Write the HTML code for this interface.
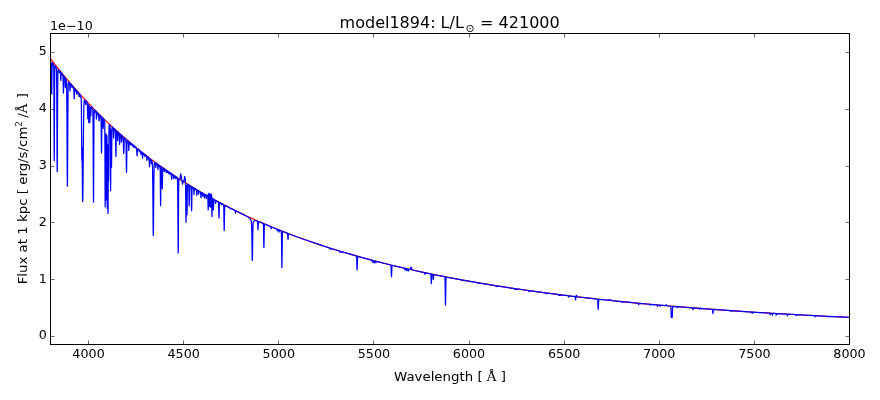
<!DOCTYPE html><html><head><meta charset="utf-8"><title>model1894</title><style>html,body{margin:0;padding:0;background:#fff}svg{display:block}text{font-family:"DejaVu Sans","Liberation Sans",sans-serif;fill:#000}</style></head><body>
<svg width="880" height="400" viewBox="0 0 880 400">
<rect width="880" height="400" fill="#fff"/>
<clipPath id="c"><rect x="50.5" y="33.5" width="799" height="311"/></clipPath>
<g clip-path="url(#c)" fill="none" stroke-linejoin="round">
<path d="M50.50,58.71 L53.75,62.92 L57.05,67.11 L60.35,71.23 L63.70,75.33 L67.05,79.36 L70.45,83.36 L73.90,87.34 L77.35,91.25 L80.80,95.08 L84.30,98.90 L87.85,102.69 L91.40,106.40 L95.00,110.10 L98.60,113.72 L102.25,117.32 L105.90,120.85 L109.60,124.35 L113.35,127.83 L117.10,131.24 L120.90,134.62 L124.70,137.94 L128.55,141.23 L132.45,144.49 L136.35,147.69 L140.30,150.86 L144.30,154.01 L148.30,157.09 L152.35,160.14 L156.45,163.17 L160.55,166.13 L164.70,169.06 L168.90,171.96 L173.15,174.84 L177.40,177.66 L181.70,180.44 L186.00,183.17 L190.35,185.86 L194.75,188.53 L199.20,191.17 L203.70,193.78 L208.25,196.36 L212.80,198.89 L217.40,201.38 L222.05,203.84 L226.75,206.28 L231.50,208.68 L236.30,211.05 L241.10,213.37 L246.00,215.68 L250.90,217.94 L255.85,220.17 L260.85,222.37 L265.95,224.56 L271.05,226.70 L276.20,228.81 L281.40,230.88 L286.65,232.93 L291.95,234.95 L297.30,236.93 L302.70,238.89 L308.15,240.82 L313.70,242.73 L319.25,244.59 L324.90,246.45 L330.50,248.24 L336.20,250.01 L341.95,251.76 L347.75,253.48 L353.60,255.17 L359.50,256.83 L365.45,258.47 L371.50,260.08 L383.75,263.23 L396.25,266.28 L409.05,269.24 L422.10,272.10 L435.45,274.87 L449.10,277.56 L463.05,280.15 L477.30,282.65 L491.90,285.07 L506.80,287.41 L522.05,289.66 L537.70,291.84 L553.70,293.94 L570.05,295.96 L586.80,297.91 L604.00,299.79 L621.60,301.60 L639.70,303.34 L658.25,305.02 L677.25,306.63 L696.80,308.18 L716.85,309.66 L737.45,311.09 L758.60,312.46 L780.35,313.77 L802.75,315.03 L825.80,316.24 L849.50,317.39" stroke="#f00" stroke-width="1.15"/>
<path d="M50.50,62.20 L50.60,62.56 L50.80,62.10 L50.95,62.15 L51.05,62.34 L51.15,62.99 L51.25,64.97 L51.35,69.88 L51.60,90.63 L51.70,93.92 L51.80,90.31 L52.00,73.07 L52.15,65.86 L52.20,65.39 L52.25,65.46 L52.30,65.46 L52.45,63.48 L52.50,63.10 L52.55,62.98 L52.60,62.97 L52.75,63.09 L52.85,63.37 L53.00,64.65 L53.05,64.70 L53.20,63.69 L53.25,63.63 L53.30,63.75 L53.45,64.71 L53.50,64.78 L53.55,64.70 L53.60,64.75 L53.70,66.39 L53.80,72.17 L53.90,85.68 L54.15,150.25 L54.25,160.86 L54.35,149.38 L54.60,86.40 L54.70,73.18 L54.80,67.64 L54.90,66.20 L55.05,66.78 L55.20,66.06 L55.25,65.95 L55.30,66.03 L55.50,67.18 L55.70,66.53 L55.90,66.77 L56.15,67.19 L56.25,67.50 L56.50,70.30 L56.65,76.71 L56.75,87.75 L57.10,164.23 L57.20,171.68 L57.30,163.14 L57.70,82.71 L57.80,74.74 L57.90,71.27 L58.00,70.02 L58.10,69.68 L58.20,69.64 L58.30,69.78 L58.50,70.73 L58.70,70.06 L58.90,70.17 L59.00,70.37 L59.20,72.56 L59.25,72.56 L59.35,71.38 L59.45,70.81 L59.55,71.16 L59.70,72.40 L59.90,71.29 L59.95,71.25 L60.00,71.28 L60.15,71.45 L60.30,71.81 L60.40,72.83 L60.65,78.72 L60.80,80.40 L60.90,79.31 L61.10,74.84 L61.40,73.04 L61.45,72.98 L61.50,72.99 L61.70,73.26 L61.90,74.56 L61.95,74.63 L62.10,73.87 L62.15,73.80 L62.20,73.82 L62.35,74.00 L62.45,74.33 L62.60,75.42 L62.65,75.40 L62.75,74.85 L62.80,74.73 L62.85,74.78 L62.95,75.46 L63.05,77.40 L63.40,93.04 L63.45,93.04 L63.50,91.71 L63.75,78.32 L63.80,77.20 L63.90,76.35 L63.95,76.45 L64.10,77.66 L64.25,76.73 L64.30,76.52 L64.35,76.48 L64.45,76.64 L64.50,76.86 L64.65,78.12 L64.70,78.16 L64.80,77.66 L64.85,77.63 L64.90,77.90 L65.05,80.55 L65.20,85.70 L65.30,87.52 L65.55,81.20 L65.70,79.06 L65.75,79.01 L65.90,79.91 L66.10,79.02 L66.20,79.11 L66.35,79.68 L66.45,80.57 L66.55,82.52 L66.65,86.74 L66.85,103.57 L67.25,174.70 L67.35,184.75 L67.40,186.10 L67.45,184.83 L67.55,175.10 L67.85,119.28 L68.05,93.94 L68.15,87.68 L68.30,83.45 L68.35,82.96 L68.40,82.85 L68.50,83.20 L68.55,83.12 L68.70,82.12 L68.75,82.01 L68.85,82.04 L68.95,82.18 L69.00,82.38 L69.15,83.83 L69.20,83.92 L69.35,82.75 L69.40,82.62 L69.50,82.76 L69.60,83.32 L69.70,84.71 L69.95,90.92 L70.00,90.85 L70.05,90.32 L70.40,84.44 L70.45,84.03 L70.55,83.76 L70.75,83.90 L70.90,84.13 L71.10,85.67 L71.15,85.68 L71.25,84.94 L71.35,84.61 L71.60,84.83 L71.70,85.01 L71.95,87.42 L72.10,85.82 L72.15,85.58 L72.20,85.53 L72.55,85.94 L72.75,86.68 L72.95,86.39 L73.10,86.57 L73.30,88.19 L73.35,88.32 L73.50,87.25 L73.55,87.13 L73.60,87.16 L73.70,87.77 L73.75,88.60 L74.20,98.77 L74.30,97.30 L74.50,90.84 L74.60,89.20 L74.65,88.97 L74.70,89.15 L74.85,90.52 L75.00,89.09 L75.05,88.86 L75.10,88.82 L75.25,88.98 L75.35,89.38 L75.50,91.17 L75.55,91.22 L75.65,90.17 L75.75,89.63 L75.85,89.89 L76.00,90.84 L76.20,90.14 L76.25,90.12 L76.35,90.23 L76.45,90.45 L76.75,94.08 L76.90,94.19 L76.95,94.02 L77.20,91.84 L77.25,91.81 L77.35,92.11 L77.40,92.12 L77.50,91.81 L77.60,91.69 L77.70,91.79 L77.80,92.04 L77.95,93.07 L78.00,93.15 L78.15,92.48 L78.20,92.42 L78.25,92.44 L78.40,92.77 L78.55,93.55 L78.60,93.57 L78.70,93.44 L78.80,94.08 L79.00,96.33 L79.05,96.38 L79.15,96.12 L79.35,94.24 L79.45,93.95 L79.75,94.30 L79.85,94.52 L80.05,96.55 L80.10,96.59 L80.25,95.26 L80.30,95.14 L80.35,95.15 L80.50,95.37 L80.60,95.67 L80.80,97.16 L80.95,96.51 L81.00,96.51 L81.05,96.70 L81.10,97.12 L81.25,100.10 L81.40,108.34 L81.70,147.03 L81.85,160.08 L81.90,161.12 L81.95,160.08 L82.10,147.51 L82.45,190.23 L82.55,197.47 L82.65,201.06 L82.70,201.53 L82.80,199.47 L82.95,189.34 L83.45,132.26 L83.70,112.72 L83.85,106.35 L84.05,102.03 L84.20,100.90 L84.30,101.04 L84.35,101.03 L84.55,99.97 L84.60,99.92 L84.70,99.93 L84.80,100.05 L84.85,100.26 L85.00,101.89 L85.05,102.01 L85.20,100.65 L85.25,100.54 L85.30,100.69 L85.60,104.31 L85.90,101.84 L86.05,101.10 L86.15,101.10 L86.45,101.42 L86.65,102.15 L86.70,102.14 L86.85,101.83 L86.95,101.88 L87.05,102.12 L87.25,104.79 L87.40,106.16 L87.70,116.58 L87.80,118.58 L87.85,118.72 L87.95,116.56 L88.15,107.71 L88.30,104.69 L88.45,108.54 L88.70,120.69 L88.75,122.32 L88.80,122.68 L88.90,120.08 L89.15,109.24 L89.30,105.75 L89.45,109.78 L89.70,121.04 L89.80,122.57 L89.90,120.95 L90.15,110.90 L90.35,107.12 L90.40,107.18 L90.50,108.73 L90.75,115.91 L90.80,115.82 L90.85,115.19 L91.10,109.20 L91.25,107.16 L91.30,107.10 L91.35,107.40 L91.45,108.44 L91.50,108.43 L91.65,107.00 L91.70,106.87 L91.75,106.86 L92.20,107.38 L92.45,108.33 L92.60,108.01 L92.65,108.03 L92.75,108.48 L92.85,110.22 L92.95,114.52 L93.10,128.20 L93.40,193.35 L93.50,202.13 L93.60,193.18 L93.95,121.90 L94.10,112.51 L94.15,111.56 L94.30,110.18 L94.40,109.78 L94.50,109.77 L94.75,109.97 L94.85,110.15 L95.05,112.15 L95.10,112.13 L95.25,110.71 L95.30,110.68 L95.35,110.94 L95.50,112.02 L95.70,110.92 L95.75,110.90 L95.90,111.04 L96.05,111.45 L96.20,113.29 L96.35,118.06 L96.40,118.96 L96.45,119.08 L96.55,118.06 L96.80,113.74 L97.05,112.52 L97.15,112.29 L97.55,112.65 L97.65,112.88 L97.85,114.98 L97.90,114.83 L98.00,113.68 L98.10,113.25 L98.20,113.47 L98.35,114.64 L98.40,114.75 L98.50,114.36 L98.55,114.36 L98.70,115.92 L98.90,119.64 L98.95,120.25 L99.05,120.72 L99.10,120.74 L99.15,120.62 L99.20,120.09 L99.35,116.41 L99.40,115.58 L99.50,115.00 L99.55,115.13 L99.70,116.40 L99.75,116.29 L99.85,115.40 L99.95,115.07 L100.30,115.38 L100.40,115.61 L100.60,117.08 L100.80,116.07 L100.90,116.47 L101.05,119.61 L101.15,124.69 L101.40,148.29 L101.50,152.78 L101.60,149.70 L101.85,125.18 L101.95,120.20 L102.05,118.43 L102.20,117.57 L102.25,117.45 L102.35,117.43 L102.45,117.53 L102.55,117.75 L102.70,118.39 L102.80,118.58 L102.85,118.90 L103.20,128.49 L103.30,126.58 L103.45,121.31 L103.60,119.08 L103.65,118.93 L103.70,118.97 L103.75,119.22 L103.90,120.66 L103.95,120.56 L104.10,119.39 L104.15,119.32 L104.20,119.33 L104.30,119.44 L104.40,119.66 L104.65,121.05 L104.75,123.77 L104.85,133.00 L105.10,194.53 L105.20,206.93 L105.30,194.25 L105.55,133.76 L105.80,188.86 L105.90,200.29 L106.00,189.57 L106.25,134.48 L106.50,185.77 L106.60,196.64 L106.70,186.22 L106.95,135.63 L107.25,205.26 L107.30,208.54 L107.35,205.39 L107.60,146.46 L107.65,144.93 L107.90,203.12 L108.00,213.48 L108.10,203.48 L108.35,146.25 L108.50,172.35 L108.60,180.42 L108.70,172.40 L108.90,138.26 L109.00,129.28 L109.10,126.62 L109.35,124.67 L109.40,124.55 L109.50,124.57 L109.85,124.84 L109.95,125.13 L110.00,125.46 L110.10,126.84 L110.20,130.79 L110.30,141.33 L110.50,180.90 L110.60,190.58 L110.70,181.45 L110.90,141.85 L111.00,131.93 L111.05,130.00 L111.10,131.10 L111.20,137.23 L111.40,160.63 L111.50,167.16 L111.60,161.49 L111.85,132.80 L111.95,129.26 L112.10,127.32 L112.20,126.86 L112.30,126.87 L112.45,127.08 L112.65,127.91 L112.80,127.45 L112.90,127.40 L113.10,127.61 L113.20,128.12 L113.35,130.93 L113.60,137.99 L113.85,131.05 L114.10,128.84 L114.15,128.63 L114.20,128.61 L114.25,128.69 L114.45,129.54 L114.60,129.07 L114.65,129.01 L114.70,129.02 L114.80,129.12 L114.90,129.46 L115.05,130.41 L115.20,129.79 L115.25,129.75 L115.30,129.92 L115.40,131.20 L115.50,134.89 L115.80,153.39 L115.90,156.42 L116.00,153.48 L116.30,134.28 L116.40,132.23 L116.55,131.23 L116.65,130.87 L116.75,130.85 L116.90,131.06 L117.10,131.99 L117.25,131.50 L117.30,131.50 L117.40,132.13 L117.70,140.60 L117.75,140.28 L117.95,133.50 L118.05,132.30 L118.10,132.15 L118.15,132.13 L118.25,132.31 L118.45,134.35 L118.50,134.26 L118.65,132.78 L118.70,132.65 L118.75,132.64 L118.85,132.76 L118.90,132.92 L119.10,134.71 L119.20,134.72 L119.25,135.08 L119.50,142.75 L119.60,144.44 L119.65,144.17 L119.75,142.18 L120.00,135.11 L120.10,134.29 L120.30,135.69 L120.50,134.28 L120.55,134.24 L120.60,134.27 L120.90,134.53 L121.05,134.79 L121.15,135.72 L121.50,141.94 L121.70,138.08 L122.00,135.75 L122.05,135.61 L122.10,135.60 L122.35,135.80 L122.45,136.00 L122.65,137.61 L122.80,136.64 L122.85,136.44 L122.90,136.46 L123.00,137.25 L123.15,139.96 L123.30,141.53 L123.60,152.03 L123.70,153.40 L123.80,152.19 L124.20,140.28 L124.35,138.10 L124.45,137.79 L124.50,137.75 L124.60,137.78 L124.70,137.92 L124.85,138.45 L124.90,138.48 L125.00,138.28 L125.10,138.20 L125.55,138.58 L125.65,138.78 L125.85,141.11 L126.00,142.30 L126.05,143.63 L126.40,168.80 L126.50,172.26 L126.55,171.93 L126.60,170.17 L126.95,144.22 L127.05,141.92 L127.30,140.41 L127.40,140.19 L127.50,140.34 L127.55,140.58 L127.70,141.82 L127.75,141.72 L127.85,140.95 L127.90,140.75 L127.95,140.77 L128.15,142.73 L128.20,142.70 L128.30,141.91 L128.35,141.87 L128.40,142.21 L128.80,150.40 L128.85,150.30 L128.90,149.45 L129.15,143.80 L129.20,143.61 L129.25,143.69 L129.30,143.69 L129.45,142.35 L129.50,142.09 L129.55,142.02 L129.60,142.02 L129.90,142.27 L130.00,142.49 L130.20,143.97 L130.35,142.97 L130.40,142.79 L130.45,142.76 L130.50,142.82 L130.75,144.67 L130.90,143.45 L130.95,143.27 L131.00,143.29 L131.20,145.05 L131.25,145.11 L131.40,143.80 L131.45,143.64 L131.50,143.62 L131.75,143.85 L131.95,144.83 L132.00,144.87 L132.15,144.28 L132.20,144.22 L132.35,144.31 L132.45,144.44 L132.65,145.90 L132.70,146.01 L132.85,144.98 L132.90,144.85 L132.95,144.83 L133.05,145.09 L133.25,146.82 L133.40,145.53 L133.45,145.33 L133.50,145.29 L133.60,145.35 L133.70,145.62 L133.90,147.43 L134.05,146.10 L134.15,145.83 L134.55,146.14 L134.80,146.89 L135.00,146.53 L135.35,146.81 L135.55,147.79 L135.60,147.86 L135.80,147.19 L136.05,147.35 L136.20,147.53 L136.30,148.03 L136.40,149.00 L136.45,149.23 L136.55,149.14 L136.65,149.78 L137.05,155.73 L137.10,155.65 L137.15,154.85 L137.35,150.45 L137.40,150.12 L137.45,150.10 L137.50,150.21 L137.55,150.16 L137.70,149.01 L137.80,148.80 L137.95,148.94 L138.15,149.50 L138.35,149.24 L138.75,149.57 L139.00,151.00 L139.20,149.98 L139.30,149.98 L139.65,150.27 L139.75,150.53 L139.90,151.73 L139.95,151.78 L140.10,150.82 L140.15,150.71 L140.25,150.75 L140.35,151.08 L140.50,152.82 L140.55,152.96 L140.70,152.05 L140.75,152.22 L141.00,154.38 L141.05,154.25 L141.25,152.52 L141.40,151.87 L141.45,151.80 L141.55,151.80 L141.65,151.96 L141.85,152.96 L142.00,152.33 L142.05,152.27 L142.10,152.32 L142.25,153.18 L142.50,158.15 L142.55,158.17 L142.65,157.43 L142.90,154.46 L143.05,154.92 L143.20,153.54 L143.30,153.19 L143.55,153.35 L143.65,153.53 L143.85,154.46 L144.00,153.88 L144.05,153.83 L144.25,154.63 L144.30,154.67 L144.45,154.24 L144.50,154.31 L144.80,156.43 L144.85,156.33 L145.05,154.98 L145.10,154.98 L145.25,155.69 L145.40,155.07 L145.45,154.94 L145.50,154.93 L145.60,155.17 L145.75,155.91 L145.95,155.31 L146.10,155.36 L146.40,155.65 L146.55,156.27 L146.90,159.93 L147.00,160.47 L147.10,160.04 L147.30,157.78 L147.40,157.14 L147.45,157.08 L147.55,157.19 L147.70,156.80 L147.80,156.72 L148.25,157.07 L148.35,157.29 L148.50,158.35 L148.55,158.45 L148.70,157.67 L148.75,157.66 L148.95,159.45 L149.00,159.42 L149.10,158.92 L149.15,159.12 L149.45,165.80 L149.50,166.58 L149.55,166.69 L149.80,160.29 L149.90,159.08 L150.00,158.69 L150.05,158.66 L150.10,158.71 L150.30,159.31 L150.45,159.05 L150.50,159.03 L150.55,159.09 L150.75,159.82 L150.90,159.58 L150.95,159.61 L151.05,160.23 L151.25,163.57 L151.30,163.80 L151.50,161.49 L151.55,161.37 L151.65,161.99 L151.70,161.99 L151.85,160.72 L151.90,160.63 L151.95,160.74 L152.10,161.91 L152.15,162.11 L152.25,161.99 L152.30,162.11 L152.35,162.54 L152.50,166.03 L152.60,170.58 L152.80,186.15 L153.15,228.25 L153.30,235.40 L153.40,232.92 L153.45,229.45 L153.80,186.73 L153.95,173.87 L154.15,165.87 L154.30,163.46 L154.45,162.73 L154.60,162.58 L154.90,162.62 L155.15,163.12 L155.35,162.82 L155.45,162.93 L155.55,163.50 L155.75,167.10 L155.80,167.35 L156.00,164.23 L156.05,163.71 L156.15,163.28 L156.20,163.23 L156.30,163.25 L156.45,163.36 L156.50,163.46 L156.70,164.99 L156.75,164.90 L156.90,163.77 L156.95,163.68 L157.00,163.68 L157.25,163.87 L157.45,164.88 L157.50,164.98 L157.60,164.85 L157.65,165.02 L157.90,168.71 L158.00,169.52 L158.05,169.36 L158.25,167.04 L158.35,166.83 L158.40,166.55 L158.50,165.39 L158.60,164.82 L158.70,164.80 L158.95,164.97 L159.10,165.18 L159.30,166.56 L159.50,165.47 L159.55,165.46 L159.60,165.58 L159.75,166.28 L159.80,166.24 L159.95,165.80 L160.05,166.10 L160.15,167.53 L160.25,171.90 L160.50,200.47 L160.60,205.64 L160.70,199.88 L160.95,172.28 L161.05,168.15 L161.15,166.92 L161.20,166.85 L161.35,167.31 L161.55,166.85 L161.65,166.97 L161.75,167.45 L161.85,168.80 L162.00,174.44 L162.20,186.80 L162.30,188.85 L162.40,186.29 L162.60,174.63 L162.75,169.43 L162.85,168.33 L162.90,168.25 L163.00,168.44 L163.05,168.41 L163.20,168.00 L163.30,168.00 L163.50,168.18 L163.70,168.75 L163.90,168.46 L164.00,168.58 L164.10,169.32 L164.25,171.36 L164.30,171.48 L164.45,170.88 L164.60,169.70 L164.65,169.59 L164.70,169.81 L164.80,170.58 L164.85,170.52 L165.00,169.38 L165.05,169.27 L165.10,169.26 L165.35,169.47 L165.55,169.94 L165.70,169.74 L165.75,169.74 L165.90,170.00 L166.00,170.45 L166.25,172.37 L166.35,172.67 L166.40,172.54 L166.60,170.91 L166.70,170.55 L166.80,170.47 L167.05,170.60 L167.15,170.75 L167.40,171.51 L167.60,172.40 L167.65,172.34 L167.80,171.59 L167.90,171.34 L167.95,171.38 L168.10,171.86 L168.15,171.84 L168.30,171.51 L168.45,171.58 L168.55,171.93 L168.70,173.29 L168.75,173.22 L168.90,172.05 L168.95,171.95 L169.00,171.94 L169.15,172.06 L169.25,172.42 L169.45,174.13 L169.50,174.14 L169.60,174.01 L169.85,172.79 L169.95,172.64 L170.05,172.69 L170.25,173.25 L170.45,172.96 L170.60,173.02 L170.90,173.26 L171.00,173.66 L171.15,175.09 L171.20,175.13 L171.25,175.01 L171.30,175.07 L171.35,175.47 L171.60,179.26 L171.65,179.24 L171.85,175.74 L172.00,174.44 L172.05,174.43 L172.20,175.35 L172.25,175.32 L172.40,174.43 L172.45,174.44 L172.60,175.27 L172.65,175.35 L172.85,174.60 L173.05,174.68 L173.20,174.88 L173.35,175.80 L173.50,178.11 L173.55,178.35 L173.80,176.44 L173.85,176.40 L173.95,176.77 L174.00,176.70 L174.10,175.91 L174.20,175.51 L174.25,175.51 L174.30,175.59 L174.35,175.78 L174.50,176.93 L174.55,176.91 L174.70,175.96 L174.75,175.87 L174.80,175.88 L174.95,176.15 L175.05,176.75 L175.25,178.74 L175.30,178.74 L175.35,178.51 L175.55,177.00 L175.70,176.56 L175.80,176.58 L175.85,176.67 L176.05,177.99 L176.25,176.98 L176.30,176.92 L176.35,176.93 L176.55,177.07 L176.65,177.21 L176.85,178.69 L176.90,178.73 L177.05,177.67 L177.10,177.56 L177.20,177.60 L177.30,177.89 L177.55,179.25 L177.70,184.39 L177.85,201.03 L178.10,246.06 L178.20,253.06 L178.30,246.07 L178.60,194.53 L178.70,185.15 L178.80,180.84 L178.90,179.32 L179.00,178.93 L179.05,178.94 L179.20,179.44 L179.25,179.48 L179.40,179.07 L179.45,179.07 L179.60,179.68 L179.65,179.71 L179.85,178.64 L180.00,178.16 L180.05,178.07 L180.15,178.02 L180.50,174.91 L180.65,174.15 L180.75,173.93 L180.80,173.93 L180.95,174.37 L181.20,176.54 L181.75,179.86 L181.90,181.10 L181.95,181.31 L182.10,180.94 L182.20,181.27 L182.50,184.18 L182.55,184.05 L182.75,182.01 L182.90,181.32 L182.95,181.25 L183.05,181.22 L183.25,181.33 L183.50,182.04 L183.65,181.49 L183.90,180.94 L184.15,180.01 L184.20,179.99 L184.25,180.04 L184.30,179.97 L184.50,177.53 L184.60,176.83 L184.70,176.51 L184.75,176.56 L184.80,176.83 L184.95,178.17 L185.05,178.01 L185.10,178.02 L185.25,179.05 L185.45,181.65 L185.60,187.60 L185.90,217.66 L186.00,222.27 L186.10,217.85 L186.35,192.15 L186.50,185.86 L186.55,185.47 L186.65,188.51 L186.90,210.37 L187.00,214.89 L187.10,210.48 L187.35,189.12 L187.50,184.83 L187.55,184.39 L187.65,184.14 L187.80,184.18 L188.10,184.40 L188.30,185.27 L188.35,185.29 L188.50,184.74 L188.55,184.71 L188.60,184.77 L188.70,185.30 L188.75,185.97 L188.90,190.69 L189.10,202.88 L189.20,205.89 L189.30,202.96 L189.50,190.42 L189.65,186.47 L189.70,186.32 L189.80,186.55 L189.95,185.80 L190.05,185.59 L190.20,185.66 L190.30,185.78 L190.50,186.44 L190.65,186.07 L190.75,186.01 L190.85,186.10 L190.95,186.45 L191.15,189.35 L191.25,191.98 L191.50,207.73 L191.60,210.81 L191.70,207.70 L192.00,190.08 L192.10,187.93 L192.15,187.43 L192.25,187.05 L192.30,187.04 L192.35,187.10 L192.50,187.52 L192.70,187.23 L192.80,187.25 L192.90,187.35 L193.10,188.19 L193.15,188.17 L193.25,187.76 L193.35,187.61 L193.45,187.69 L193.55,187.94 L193.70,189.15 L194.00,194.46 L194.30,189.50 L194.40,188.67 L194.50,188.38 L194.60,188.35 L194.80,188.50 L195.00,189.05 L195.15,188.76 L195.20,188.72 L195.30,188.80 L195.50,189.54 L195.70,189.05 L195.80,189.05 L195.95,189.14 L196.05,189.29 L196.25,190.18 L196.35,190.00 L196.40,190.02 L196.50,190.85 L196.75,195.34 L196.80,195.33 L196.85,194.93 L197.15,190.65 L197.30,190.06 L197.40,190.04 L197.45,190.11 L197.65,191.17 L197.70,191.10 L197.80,190.53 L197.90,190.33 L198.25,190.52 L198.35,190.67 L198.45,191.26 L198.65,194.15 L198.70,194.09 L198.75,193.62 L198.90,191.78 L198.95,191.40 L199.05,191.07 L199.15,191.05 L199.35,191.17 L199.60,191.56 L199.80,191.45 L200.30,191.74 L200.45,192.17 L200.65,193.34 L200.90,196.76 L201.00,197.57 L201.05,197.61 L201.15,196.79 L201.35,193.56 L201.45,192.84 L201.50,192.67 L201.60,192.54 L201.75,192.57 L201.90,192.69 L202.10,193.45 L202.15,193.44 L202.30,192.97 L202.35,192.95 L202.45,193.07 L202.55,193.60 L202.70,195.67 L202.75,196.17 L202.80,196.26 L203.00,194.21 L203.05,193.81 L203.15,193.47 L203.25,193.45 L203.45,193.59 L203.65,194.49 L203.70,194.49 L203.85,193.90 L203.90,193.86 L203.95,193.91 L204.05,194.26 L204.20,195.26 L204.40,197.33 L204.50,197.92 L204.60,197.49 L204.85,195.18 L205.00,194.54 L205.10,194.51 L205.30,194.64 L205.50,195.08 L205.55,195.09 L205.65,194.92 L205.75,194.88 L205.85,194.93 L205.95,195.07 L206.05,195.58 L206.25,198.54 L206.30,198.66 L206.50,196.17 L206.60,195.49 L206.70,195.32 L206.80,195.31 L207.00,195.35 L207.15,195.52 L207.40,195.14 L207.50,195.10 L207.55,195.15 L207.75,195.83 L207.85,197.10 L208.10,207.82 L208.20,209.94 L208.30,207.57 L208.55,196.25 L208.70,193.71 L208.80,193.35 L208.85,193.33 L208.90,193.41 L209.10,194.13 L209.20,195.08 L209.50,204.89 L209.60,206.39 L209.70,204.63 L210.00,195.56 L210.15,194.18 L210.20,194.08 L210.25,194.16 L210.30,194.45 L210.40,195.38 L210.50,197.30 L210.70,205.32 L210.80,207.24 L210.90,205.28 L211.15,196.24 L211.30,194.43 L211.35,194.21 L211.40,194.17 L211.55,195.28 L211.65,197.77 L211.90,213.50 L212.00,216.59 L212.10,213.75 L212.35,199.93 L212.40,198.77 L212.45,198.21 L212.50,198.12 L212.60,198.41 L212.75,198.20 L212.80,198.31 L212.90,199.14 L213.00,201.12 L213.20,208.03 L213.30,209.81 L213.35,209.60 L213.40,208.72 L213.65,200.93 L213.70,200.19 L213.80,199.67 L213.95,199.91 L214.10,199.63 L214.20,199.59 L214.40,199.74 L214.55,199.99 L214.80,199.93 L214.95,200.02 L215.05,200.16 L215.20,200.85 L215.50,203.47 L215.60,203.10 L215.90,200.79 L216.00,200.61 L216.25,200.72 L216.35,200.81 L216.55,201.43 L216.70,201.11 L216.80,201.04 L217.00,201.36 L217.20,201.26 L217.40,201.53 L217.60,201.47 L217.65,201.51 L217.85,202.23 L217.90,202.27 L218.10,201.74 L218.30,201.86 L218.40,202.07 L218.50,202.68 L218.60,204.24 L218.90,216.24 L219.00,217.99 L219.10,216.21 L219.40,205.25 L219.50,203.42 L219.60,202.73 L219.70,202.61 L219.85,202.66 L219.95,202.77 L220.10,203.11 L220.30,202.92 L220.50,203.00 L220.60,203.08 L220.80,203.42 L220.95,203.29 L221.05,203.33 L221.15,203.52 L221.45,204.74 L221.50,204.74 L221.55,204.58 L221.70,203.81 L221.80,203.70 L222.05,203.87 L222.25,204.46 L222.45,204.07 L222.55,204.16 L222.70,204.57 L222.75,204.57 L222.85,204.37 L222.95,204.30 L223.40,204.54 L223.55,204.79 L223.70,206.08 L223.80,208.48 L224.10,227.51 L224.20,230.50 L224.30,227.76 L224.60,208.81 L224.70,206.42 L224.75,205.88 L224.85,205.55 L225.00,205.92 L225.20,205.52 L225.30,205.52 L225.50,205.65 L225.70,206.05 L225.85,205.88 L226.00,205.88 L226.40,206.09 L226.65,206.33 L226.85,206.33 L227.30,206.55 L227.55,206.84 L227.75,206.80 L227.90,206.86 L228.00,206.94 L228.20,207.31 L228.35,207.15 L228.45,207.15 L228.70,207.29 L228.85,207.46 L229.10,207.48 L229.25,207.56 L229.45,207.88 L229.70,207.79 L230.10,207.98 L230.25,208.11 L230.45,208.59 L230.65,208.29 L230.85,208.36 L231.00,208.49 L231.20,208.97 L231.35,208.70 L231.45,208.67 L234.90,210.41 L235.05,210.58 L235.15,210.88 L235.40,212.65 L235.50,213.03 L235.60,212.75 L235.85,211.22 L235.95,211.02 L236.05,210.99 L236.15,211.02 L244.40,215.08 L246.25,216.04 L247.55,216.77 L248.65,217.49 L249.50,218.18 L250.20,218.93 L250.80,219.79 L251.15,220.45 L251.35,221.18 L251.50,222.59 L251.60,224.50 L251.80,232.48 L252.15,256.19 L252.25,259.86 L252.30,260.36 L252.35,259.89 L252.45,256.28 L252.85,230.32 L253.00,225.10 L253.15,222.72 L253.25,222.02 L253.40,221.55 L253.60,221.29 L253.95,221.03 L254.40,220.81 L254.95,220.71 L255.55,220.72 L256.25,220.84 L257.30,221.16 L257.40,221.27 L257.50,221.60 L257.65,223.13 L257.90,228.74 L258.00,229.73 L258.10,228.81 L258.40,222.71 L258.50,221.96 L258.60,221.70 L258.70,221.66 L258.85,221.69 L261.60,222.79 L263.05,223.40 L263.15,223.46 L263.25,223.62 L263.40,224.67 L263.50,226.97 L263.80,244.78 L263.90,247.55 L264.00,244.85 L264.30,227.29 L264.40,225.09 L264.50,224.30 L264.60,224.10 L264.85,224.15 L270.65,226.58 L270.75,226.69 L270.85,226.94 L271.10,228.46 L271.20,228.78 L271.30,228.54 L271.55,227.23 L271.65,227.06 L271.75,227.03 L277.00,229.15 L277.10,229.25 L277.20,229.48 L277.40,230.61 L277.50,230.94 L277.55,230.88 L277.75,229.90 L277.85,229.62 L278.00,229.55 L278.45,229.73 L278.60,229.87 L278.70,230.18 L278.90,231.70 L279.00,232.14 L279.10,231.78 L279.30,230.42 L279.35,230.27 L279.45,230.16 L281.00,230.74 L281.20,230.91 L281.30,231.31 L281.40,232.62 L281.50,236.12 L281.80,263.30 L281.90,267.51 L282.00,263.35 L282.30,236.42 L282.45,232.21 L282.55,231.55 L282.65,231.42 L282.75,231.43 L287.15,233.13 L287.40,233.30 L287.50,233.55 L287.60,234.16 L287.90,238.78 L288.00,239.51 L288.10,238.85 L288.40,234.47 L288.55,233.82 L288.65,233.74 L288.75,233.75 L298.85,237.50 L308.70,241.01 L318.75,244.43 L329.25,247.85 L329.45,247.96 L329.55,248.07 L329.90,248.96 L330.00,249.08 L330.10,249.02 L330.45,248.36 L330.55,248.30 L330.75,248.32 L331.10,248.50 L331.50,249.35 L331.60,249.27 L331.85,248.78 L332.05,248.73 L339.20,250.95 L339.35,251.04 L339.50,251.22 L339.85,252.07 L340.00,252.28 L340.15,252.16 L340.50,251.52 L340.65,251.43 L340.85,251.44 L341.40,251.60 L341.60,251.73 L342.00,252.58 L342.10,252.49 L342.35,252.00 L342.45,251.95 L342.60,251.96 L356.35,255.97 L356.45,256.06 L356.55,256.35 L356.70,258.02 L357.00,268.39 L357.10,270.00 L357.20,268.44 L357.50,258.24 L357.65,256.66 L357.75,256.42 L357.85,256.39 L371.75,260.16 L371.95,260.29 L372.05,260.47 L372.40,261.95 L372.50,262.15 L372.60,262.00 L372.95,260.71 L373.05,260.58 L373.15,260.55 L373.45,260.60 L373.65,260.76 L373.75,260.97 L374.10,262.76 L374.20,262.99 L374.30,262.81 L374.65,261.21 L374.75,261.05 L374.95,261.00 L375.45,261.13 L375.60,261.28 L375.70,261.56 L375.90,262.52 L376.00,262.76 L376.10,262.57 L376.35,261.58 L376.45,261.44 L376.60,261.42 L390.80,265.00 L390.90,265.14 L391.00,265.57 L391.10,266.70 L391.40,275.40 L391.50,276.75 L391.60,275.44 L391.90,266.89 L392.05,265.57 L392.15,265.37 L392.25,265.34 L404.40,268.19 L404.55,268.30 L404.65,268.52 L404.90,269.84 L405.00,270.12 L405.10,269.89 L405.30,268.84 L405.40,268.57 L405.50,268.48 L405.60,268.47 L406.20,268.61 L406.35,268.73 L406.45,268.99 L406.70,270.60 L406.80,270.93 L406.90,270.64 L407.10,269.35 L407.25,268.93 L407.35,268.88 L407.50,268.89 L408.00,269.01 L408.15,269.12 L408.30,269.52 L408.50,270.66 L408.60,270.94 L408.70,270.71 L408.90,269.66 L409.00,269.38 L409.10,269.29 L409.20,269.28 L410.05,269.43 L410.30,269.32 L410.55,268.88 L411.00,267.38 L411.10,267.18 L411.20,267.13 L411.30,267.23 L411.40,267.48 L411.95,269.45 L412.20,269.83 L412.50,270.00 L424.40,272.60 L424.55,272.69 L424.65,272.89 L424.90,274.07 L425.00,274.32 L425.10,274.11 L425.35,273.03 L425.45,272.88 L425.55,272.85 L430.65,273.91 L430.75,274.01 L430.85,274.36 L430.95,275.43 L431.20,282.34 L431.30,283.75 L431.40,282.38 L431.65,275.57 L431.75,274.55 L431.80,274.34 L431.90,274.19 L432.65,274.31 L432.75,274.37 L432.85,274.57 L433.00,275.64 L433.20,278.76 L433.30,279.50 L433.40,278.80 L433.65,275.27 L433.75,274.75 L433.80,274.65 L433.90,274.58 L444.70,276.72 L444.85,276.90 L444.95,277.46 L445.10,280.79 L445.40,301.76 L445.50,305.00 L445.60,301.78 L445.90,280.94 L446.05,277.67 L446.15,277.15 L446.20,277.07 L446.30,277.03 L461.55,279.88 L461.75,280.02 L462.00,280.56 L462.25,280.11 L462.35,280.04 L462.45,280.04 L477.50,282.69 L477.65,282.73 L477.75,282.84 L478.00,283.37 L478.25,282.92 L478.35,282.85 L478.45,282.85 L495.40,285.64 L495.60,285.69 L495.75,285.81 L496.10,286.56 L496.20,286.66 L496.30,286.59 L496.65,285.95 L496.80,285.88 L497.00,285.89 L514.25,288.53 L514.55,288.68 L514.90,289.35 L515.00,289.44 L515.10,289.38 L515.45,288.81 L515.55,288.76 L515.75,288.75 L516.10,288.86 L516.50,289.56 L516.60,289.47 L516.85,289.01 L516.95,288.95 L517.10,288.95 L527.95,290.50 L528.25,290.65 L528.60,291.31 L528.70,291.40 L528.80,291.34 L529.15,290.77 L529.25,290.72 L529.45,290.71 L545.35,292.86 L545.60,292.92 L545.75,293.04 L546.10,293.78 L546.20,293.87 L546.30,293.80 L546.60,293.21 L546.75,293.09 L546.90,293.07 L557.85,294.47 L558.10,294.52 L558.25,294.64 L558.60,295.38 L558.70,295.47 L558.80,295.40 L559.10,294.81 L559.25,294.69 L559.40,294.67 L559.65,294.70 L559.80,294.77 L560.10,295.35 L560.20,295.46 L560.30,295.37 L560.55,294.91 L560.75,294.83 L568.00,295.72 L568.20,295.77 L568.35,295.97 L568.60,296.99 L568.70,297.20 L568.80,297.01 L569.05,296.05 L569.15,295.92 L569.25,295.88 L574.90,296.54 L575.10,296.63 L575.25,297.09 L575.50,299.48 L575.60,299.93 L575.70,299.37 L576.00,296.23 L576.20,295.52 L576.30,295.36 L576.40,295.31 L576.50,295.38 L576.60,295.55 L577.05,296.54 L577.25,296.74 L577.55,296.84 L597.35,299.09 L597.50,299.17 L597.60,299.40 L597.75,300.52 L598.10,308.52 L598.20,309.50 L598.30,308.54 L598.65,300.61 L598.80,299.53 L598.90,299.33 L599.05,299.27 L607.75,300.17 L608.15,300.11 L608.70,299.67 L608.90,299.60 L609.10,299.71 L609.60,300.22 L609.85,300.32 L610.10,300.27 L610.60,299.86 L610.80,299.80 L611.00,299.90 L611.55,300.46 L612.00,300.62 L621.55,301.59 L621.65,301.63 L621.75,301.76 L622.00,302.44 L622.25,301.81 L622.35,301.70 L622.45,301.68 L637.90,303.17 L638.10,303.23 L638.25,303.39 L638.60,304.51 L638.70,304.65 L638.80,304.52 L639.15,303.48 L639.25,303.37 L639.45,303.32 L649.55,304.25 L649.65,304.28 L649.75,304.39 L650.00,304.99 L650.25,304.43 L650.35,304.34 L650.45,304.33 L656.90,304.90 L657.05,304.97 L657.15,305.12 L657.40,306.06 L657.50,306.25 L657.60,306.07 L657.80,305.30 L657.95,305.05 L658.15,305.01 L659.35,305.12 L659.55,305.19 L659.65,305.34 L659.90,306.28 L660.00,306.47 L660.10,306.29 L660.35,305.40 L660.50,305.24 L665.10,305.59 L665.30,305.55 L665.50,305.43 L666.00,304.80 L666.20,304.70 L666.40,304.84 L666.90,305.55 L667.20,305.74 L667.65,305.82 L670.55,306.07 L670.65,306.10 L670.75,306.19 L670.85,306.60 L670.95,307.82 L671.20,315.87 L671.30,317.50 L671.40,315.88 L671.50,312.28 L671.55,312.16 L671.65,315.70 L671.75,317.30 L671.85,315.71 L671.95,312.19 L672.00,312.29 L672.10,315.88 L672.20,317.50 L672.30,315.89 L672.55,307.94 L672.70,306.49 L672.80,306.30 L672.90,306.27 L676.50,306.59 L676.65,306.73 L676.90,307.45 L677.00,307.61 L677.10,307.47 L677.35,306.79 L677.45,306.69 L677.60,306.66 L692.25,307.83 L692.45,307.93 L692.55,308.08 L692.90,309.42 L693.00,309.58 L693.10,309.43 L693.45,308.15 L693.55,308.01 L693.75,307.95 L698.95,308.35 L699.15,308.51 L699.40,309.23 L699.50,309.38 L699.60,309.25 L699.85,308.56 L699.95,308.46 L700.10,308.43 L712.10,309.33 L712.30,309.45 L712.45,309.92 L712.80,313.20 L712.90,313.60 L713.00,313.21 L713.35,309.98 L713.50,309.54 L713.60,309.46 L713.75,309.44 L730.55,310.63 L730.65,310.65 L730.75,310.76 L731.00,311.35 L731.25,310.80 L731.35,310.70 L731.50,310.69 L751.65,312.02 L751.85,312.09 L751.95,312.24 L752.20,313.17 L752.30,313.36 L752.40,313.18 L752.65,312.28 L752.75,312.15 L752.90,312.10 L769.25,313.11 L769.45,313.17 L769.60,313.36 L769.90,314.57 L770.00,314.76 L770.10,314.58 L770.35,313.54 L770.50,313.26 L770.70,313.20 L771.65,313.26 L771.85,313.32 L772.00,313.56 L772.30,315.07 L772.40,315.30 L772.50,315.08 L772.80,313.61 L772.95,313.39 L773.15,313.35 L775.40,313.48 L775.65,313.54 L775.75,313.64 L775.85,313.87 L776.10,314.94 L776.20,315.13 L776.30,314.95 L776.60,313.78 L776.70,313.63 L776.85,313.58 L786.85,314.16 L787.00,314.23 L787.10,314.39 L787.40,315.59 L787.50,315.78 L787.60,315.61 L787.90,314.43 L788.05,314.25 L788.25,314.23 L795.65,314.65 L795.75,314.70 L795.85,314.82 L796.10,315.61 L796.20,315.77 L796.30,315.62 L796.55,314.86 L796.65,314.75 L796.80,314.71 L814.35,315.65 L814.55,315.71 L814.65,315.83 L814.90,316.62 L815.00,316.78 L815.10,316.63 L815.35,315.87 L815.45,315.76 L815.65,315.72 L827.55,316.33 L827.65,316.36 L827.75,316.46 L828.00,317.05 L828.25,316.49 L828.35,316.39 L828.50,316.37 L849.50,317.39" stroke="#00f" stroke-width="1.25"/>
</g>
<path d="M88.50,344.5v-4M88.50,33.5v4M183.50,344.5v-4M183.50,33.5v4M278.50,344.5v-4M278.50,33.5v4M373.50,344.5v-4M373.50,33.5v4M469.50,344.5v-4M469.50,33.5v4M564.50,344.5v-4M564.50,33.5v4M659.50,344.5v-4M659.50,33.5v4M754.50,344.5v-4M754.50,33.5v4M849.50,344.5v-4M849.50,33.5v4M50.5,336.50h4M849.5,336.50h-4M50.5,279.50h4M849.5,279.50h-4M50.5,222.50h4M849.5,222.50h-4M50.5,166.50h4M849.5,166.50h-4M50.5,109.50h4M849.5,109.50h-4M50.5,52.50h4M849.5,52.50h-4" stroke="#000" stroke-width="0.6" fill="none"/>
<rect x="50.5" y="33.5" width="799" height="311" fill="none" stroke="#000" stroke-width="1"/>
<text transform="translate(88.55,358.1) scale(1.035,1)" font-size="12.3" text-anchor="middle">4000</text>
<text transform="translate(183.67,358.1) scale(1.035,1)" font-size="12.3" text-anchor="middle">4500</text>
<text transform="translate(278.79,358.1) scale(1.035,1)" font-size="12.3" text-anchor="middle">5000</text>
<text transform="translate(373.90,358.1) scale(1.035,1)" font-size="12.3" text-anchor="middle">5500</text>
<text transform="translate(469.02,358.1) scale(1.035,1)" font-size="12.3" text-anchor="middle">6000</text>
<text transform="translate(564.14,358.1) scale(1.035,1)" font-size="12.3" text-anchor="middle">6500</text>
<text transform="translate(659.26,358.1) scale(1.035,1)" font-size="12.3" text-anchor="middle">7000</text>
<text transform="translate(754.38,358.1) scale(1.035,1)" font-size="12.3" text-anchor="middle">7500</text>
<text transform="translate(849.50,358.1) scale(1.035,1)" font-size="12.3" text-anchor="middle">8000</text>
<text transform="translate(46.9,339.40) scale(1.035,1)" font-size="12.3" text-anchor="end">0</text>
<text transform="translate(46.9,282.60) scale(1.035,1)" font-size="12.3" text-anchor="end">1</text>
<text transform="translate(46.9,225.80) scale(1.035,1)" font-size="12.3" text-anchor="end">2</text>
<text transform="translate(46.9,169.00) scale(1.035,1)" font-size="12.3" text-anchor="end">3</text>
<text transform="translate(46.9,112.20) scale(1.035,1)" font-size="12.3" text-anchor="end">4</text>
<text transform="translate(46.9,55.40) scale(1.035,1)" font-size="12.3" text-anchor="end">5</text>
<text transform="translate(50,29.8) scale(1.035,1)" font-size="12.3">1e−10</text>
<text x="339.6" y="27.5" font-size="16">model1894: L/L</text><text x="470.1" y="32.3" font-size="10.8" text-anchor="middle" font-family="'DejaVu Sans Light','DejaVu Sans',sans-serif" fill="#444">⊙</text><text x="480.1" y="27.5" font-size="16">= 421000</text>
<text transform="translate(450,380.6) scale(1.085,1)" font-size="12.3" text-anchor="middle">Wavelength [ <tspan font-family="'DejaVu Serif','Liberation Serif',serif">Å</tspan> ]</text>
<text transform="translate(26.6,188.75) rotate(-90) scale(1.085,1)" font-size="12.3" text-anchor="middle">Flux at 1 kpc [ erg/s/cm<tspan font-size="8.2" dy="-4.8" fill="#222">2</tspan><tspan dy="4.8" dx="-1"> /</tspan><tspan font-family="'DejaVu Serif','Liberation Serif',serif">Å</tspan><tspan dx="1"> ]</tspan></text>
</svg></body></html>
